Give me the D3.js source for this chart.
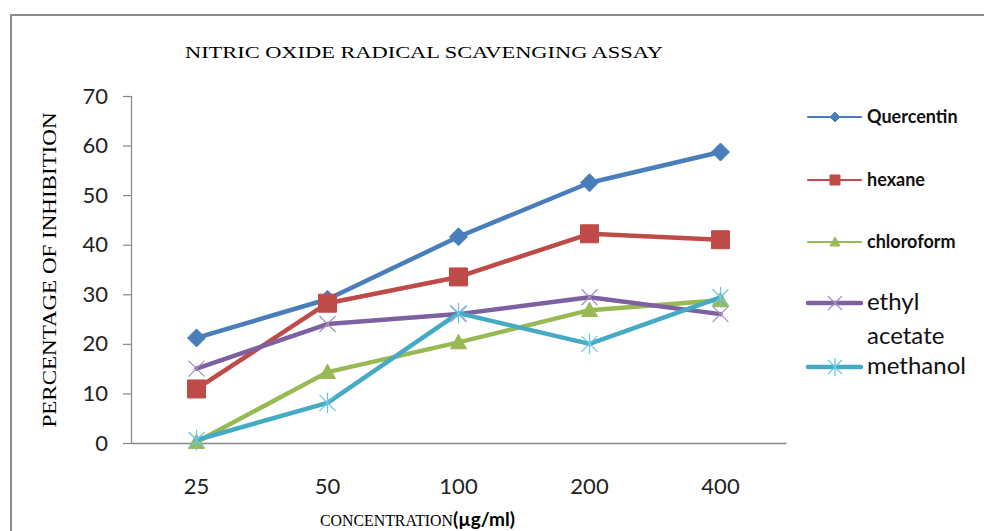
<!DOCTYPE html>
<html>
<head>
<meta charset="utf-8">
<script src="https://cdn.jsdelivr.net/npm/d3@7"></script>
<style>
  html, body { margin: 0; padding: 0; background: #fff; }
  svg { display: block; }
</style>
</head>
<body>
<svg id="chart" width="984" height="531"></svg>
<script>
// Concentrations (µg/ml) and % inhibition per extract
const concentrations = ["25", "50", "100", "200", "400"];
const yTicks = [0, 10, 20, 30, 40, 50, 60, 70];
const quercentin = [21.2, 29.0, 41.6, 52.5, 58.7];
const hexane = [10.9, 28.2, 33.5, 42.2, 41.0];
const chloroform = [0.2, 14.3, 20.3, 26.8, 28.8];
const ethylAcetate = [15.0, 24.0, 26.0, 29.4, 26.0];
const methanol = [0.6, 8.1, 26.2, 20.0, 29.4];

const seriesList = [
  { name: "Quercentin", values: quercentin, color: "#4A7EBB", marker: "diamond" },
  { name: "hexane", values: hexane, color: "#BE4B48", marker: "square" },
  { name: "chloroform", values: chloroform, color: "#98B954", marker: "triangle" },
  { name: "ethyl acetate", values: ethylAcetate, color: "#7D60A0", marker: "cross" },
  { name: "methanol", values: methanol, color: "#46AAC5", marker: "star" }
];

const svg = d3.select("#chart");

// frame of the chart area
svg.append("line").attr("x1", 10).attr("x2", 984).attr("y1", 15).attr("y2", 15)
  .attr("stroke", "#8a8a8a").attr("stroke-width", 2);
svg.append("line").attr("x1", 11).attr("x2", 11).attr("y1", 14).attr("y2", 531)
  .attr("stroke", "#8a8a8a").attr("stroke-width", 2);

const x = d3.scaleBand().domain(concentrations).range([131, 786]).padding(0);
const y = d3.scaleLinear().domain([0, 70]).range([443, 96]);
const cx = c => x(c) + x.bandwidth() / 2;

// title
svg.append("text")
  .attr("x", 185).attr("y", 58)
  .attr("textLength", 478).attr("lengthAdjust", "spacingAndGlyphs")
  .style("font-family", "'Liberation Serif', 'Times New Roman', serif")
  .style("font-size", "16px").attr("fill", "#000")
  .text("NITRIC OXIDE RADICAL SCAVENGING ASSAY");

// y axis
const yAxis = svg.append("g").attr("transform", "translate(131,0)")
  .call(d3.axisLeft(y).tickValues(yTicks).tickSize(8).tickPadding(15).tickFormat(d3.format("d")));
yAxis.select(".domain").attr("stroke", "#868686").attr("stroke-width", 1.2);
yAxis.selectAll(".tick line").attr("stroke", "#868686").attr("stroke-width", 1.2);
yAxis.selectAll(".tick text")
  .style("font-family", "Lato, 'Open Sans', sans-serif")
  .style("font-size", "22px").attr("fill", "#222");

// x axis
const xAxis = svg.append("g").attr("transform", "translate(0,443)")
  .call(d3.axisBottom(x).tickSize(0).tickPadding(35));
xAxis.select(".domain").attr("stroke", "#868686").attr("stroke-width", 1.5);
xAxis.selectAll(".tick text")
  .style("font-family", "Lato, 'Open Sans', sans-serif")
  .style("font-size", "22px").attr("fill", "#222");

// axis titles
svg.append("text")
  .attr("transform", "translate(56,270) rotate(-90)")
  .attr("text-anchor", "middle")
  .attr("textLength", 315).attr("lengthAdjust", "spacingAndGlyphs")
  .style("font-family", "'Liberation Serif', 'Times New Roman', serif")
  .style("font-size", "18px").attr("fill", "#000")
  .text("PERCENTAGE OF INHIBITION");

const xt = svg.append("text").attr("x", 320).attr("y", 526).attr("fill", "#000");
xt.append("tspan")
  .style("font-family", "'Liberation Serif', 'Times New Roman', serif")
  .style("font-size", "16px")
  .attr("textLength", 133).attr("lengthAdjust", "spacingAndGlyphs")
  .text("CONCENTRATION");
xt.append("tspan")
  .style("font-family", "Lato, 'Open Sans', sans-serif")
  .style("font-size", "19px").style("font-weight", "bold")
  .text("(µg/ml)");

// marker shapes
function markerPath(type, s) {
  switch (type) {
    case "diamond": return `M0,${-s}L${s},0L0,${s}L${-s},0Z`;
    case "square": return `M${-s},${-s}H${s}V${s}H${-s}Z`;
    case "triangle": return `M0,${-s}L${s},${s * 0.8}L${-s},${s * 0.8}Z`;
    case "cross": return `M${-s},${-s}L${s},${s}M${s},${-s}L${-s},${s}`;
    case "star": return `M${-s},${-s}L${s},${s}M${s},${-s}L${-s},${s}M0,${-s * 1.3}V${s * 1.3}`;
  }
}
const markerSize = { diamond: 9, square: 9, triangle: 8, cross: 8, star: 8 };
const lightColor = { cross: "#a58fc4", star: "#6cc7e0" };

function drawMarker(g, type, color, s) {
  const p = g.append("path").attr("d", markerPath(type, s));
  if (type === "cross" || type === "star") {
    p.attr("fill", "none").attr("stroke", lightColor[type]).attr("stroke-width", 1.3);
  } else {
    p.attr("fill", color).attr("stroke", color).attr("stroke-width", 1);
  }
}

const line = d3.line().x((d, i) => cx(concentrations[i])).y(d => y(d));

seriesList.forEach(s => {
  const g = svg.append("g");
  g.append("path").datum(s.values)
    .attr("d", line).attr("fill", "none")
    .attr("stroke", s.color).attr("stroke-width", 4.5)
    .attr("stroke-linejoin", "round").attr("stroke-linecap", "round");
  s.values.forEach((v, i) => {
    const mg = g.append("g").attr("transform", `translate(${cx(concentrations[i])},${y(v)})`);
    drawMarker(mg, s.marker, s.color, markerSize[s.marker]);
  });
});

// legend
const legendRows = [
  { s: seriesList[0], y: 117, lw: 2.2, size: "18px", weight: "bold", ms: 5, dy: 6, lines: ["Quercentin"] },
  { s: seriesList[1], y: 180, lw: 2.2, size: "18px", weight: "bold", ms: 5, dy: 6, lines: ["hexane"] },
  { s: seriesList[2], y: 242, lw: 2.2, size: "18px", weight: "bold", ms: 5, dy: 6, lines: ["chloroform"] },
  { s: seriesList[3], y: 303, lw: 4.5, size: "24px", weight: "normal", ms: 7, dy: 7, lines: ["ethyl", "acetate"] },
  { s: seriesList[4], y: 367, lw: 4.5, size: "24px", weight: "normal", ms: 7, dy: 7, lines: ["methanol"] }
];
legendRows.forEach(r => {
  const g = svg.append("g");
  g.append("line").attr("x1", 808).attr("x2", 861).attr("y1", r.y).attr("y2", r.y)
    .attr("stroke", r.s.color).attr("stroke-width", r.lw).attr("stroke-linecap", "round");
  const mg = g.append("g").attr("transform", `translate(835,${r.y})`);
  drawMarker(mg, r.s.marker, r.s.color, r.ms);
  const t = g.append("text").attr("x", 867).attr("y", r.y + r.dy)
    .style("font-family", "Lato, 'Open Sans', sans-serif")
    .style("font-size", r.size).style("font-weight", r.weight).attr("fill", "#111");
  r.lines.forEach((ln, i) => {
    t.append("tspan").attr("x", 867).attr("dy", i === 0 ? 0 : 34).text(ln);
  });
});
</script>
</body>
</html>
